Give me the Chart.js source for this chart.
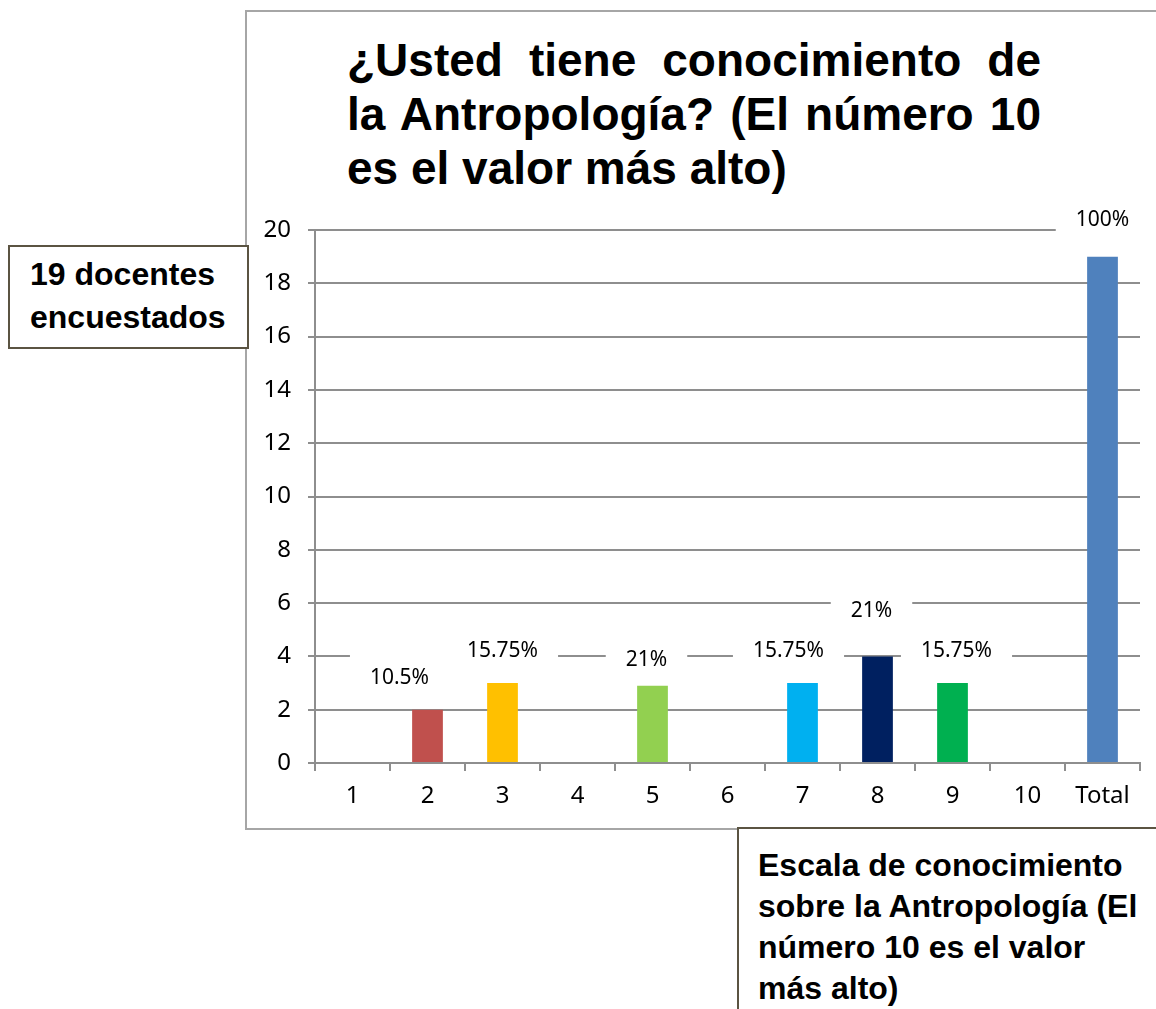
<!DOCTYPE html>
<html>
<head>
<meta charset="utf-8">
<script src="https://cdn.jsdelivr.net/npm/chart.js@4.4.1/dist/chart.umd.min.js"></script>
<style>
  body { margin: 0; background: #fff; }
  #page { position: relative; width: 1156px; height: 1009px; overflow: hidden; background: #fff; }
  #frame { position: absolute; left: 245px; top: 10px; width: 1000px; height: 816px; border: 2px solid #a6a6a6; }
  #myChart { position: absolute; left: 0; top: 0; }
  #title { position: absolute; left: 347px; top: 33px; width: 694px; font: bold 46px "Liberation Sans", Arial, sans-serif; line-height: 54px; text-align: justify; color: #000; }
  .note { position: absolute; background: #fff; font: bold 32px "Liberation Sans", Arial, sans-serif; color: #000; box-sizing: border-box; }
  #note1 { left: 8px; top: 245px; width: 241px; height: 104px; border: 2px solid #5b5442; padding: 6px 0 0 20px; line-height: 43px; }
  #note2 { left: 737px; top: 827px; width: 460px; height: 220px; border-top: 2px solid #5b5442; border-left: 2px solid #5b5442; padding: 16px 0 0 19px; line-height: 41px; }
</style>
</head>
<body>
<div id="page">
  <div id="frame"></div>
  <div id="title">¿Usted tiene conocimiento de la Antropología? (El número 10 es el valor más alto)</div>
  <canvas id="myChart" width="1156" height="1009"></canvas>
  <div class="note" id="note1">19 docentes<br>encuestados</div>
  <div class="note" id="note2">Escala de conocimiento<br>sobre la Antropología (El<br>número 10 es el valor<br>más alto)</div>
</div>
<script>
const labels = ['1', '2', '3', '4', '5', '6', '7', '8', '9', '10', 'Total']
const docentes = [null, 2, 3, null, 2.9, null, 3, 4, 3, null, 19]
const porcentajes = [null, '10.5%', '15.75%', null, '21%', null, '15.75%', '21%', '15.75%', null, '100%']
const yTicks = [0, 2, 4, 6, 8, 10, 12, 14, 16, 18, 20]

const barColors = ['#4F81BD', '#C0504D', '#FFC000', '#4F81BD', '#92D050', '#4F81BD',
  '#00B0F0', '#002060', '#00B050', '#4F81BD', '#4F81BD']
const gridColor = '#8e8e8e'

// etiquetas con fondo blanco, movidas a mano como en el original
const etiquetas = {
  id: 'etiquetas',
  afterDatasetsDraw(chart, args, opts) {
    const ctx = chart.ctx
    const meta = chart.getDatasetMeta(0)
    const items = []
    ctx.save()
    ctx.font = '21px "Noto Sans"'
    meta.data.forEach((bar, i) => {
      const txt = porcentajes[i]
      if (txt == null || docentes[i] == null) return
      const n = opts.nudge[i] || [0, 0]
      const x = bar.x + n[0]
      const y = bar.y - opts.offset + n[1]
      const w = ctx.measureText(txt).width
      items.push({ txt, x, y, w })
    })
    ctx.fillStyle = '#fff'
    items.forEach(it => {
      ctx.fillRect(it.x - it.w / 2 - opts.padX, it.y - opts.padY, it.w + opts.padX * 2, opts.padY * 2)
    })
    ctx.fillStyle = '#000'
    ctx.textAlign = 'center'
    ctx.textBaseline = 'middle'
    items.forEach(it => ctx.fillText(it.txt, it.x, it.y))
    ctx.restore()
  }
}

const ctx = document.getElementById('myChart')

const data = {
  labels,
  datasets: [{
    data: docentes,
    backgroundColor: barColors,
    barPercentage: 0.41,
    categoryPercentage: 1
  }]
}

const config = {
  type: 'bar',
  data: data,
  plugins: [etiquetas],
  options: {
    responsive: false,
    animation: false,
    layout: { padding: { left: 245, top: 230, right: 16, bottom: 181 } },
    plugins: {
      legend: { display: false },
      tooltip: { enabled: false },
      etiquetas: {
        offset: 32,
        padX: 20,
        padY: 24,
        nudge: { 1: [-28, 0], 4: [-6, 6], 6: [-14, 0], 7: [-6, -13], 8: [4, 0], 10: [0, -5] }
      }
    },
    scales: {
      x: {
        grid: { drawOnChartArea: false, drawTicks: true, tickLength: 8, color: gridColor, lineWidth: 2, offset: true },
        border: { color: gridColor, width: 2 },
        ticks: { color: '#000', font: { family: 'Noto Sans', size: 24 }, padding: 11 },
        afterFit: s => { s.height = 65 }
      },
      y: {
        min: 0,
        max: 20,
        afterBuildTicks: s => { s.ticks = yTicks.map(v => ({ value: v })) },
        grid: { color: gridColor, lineWidth: 2, tickLength: 7 },
        border: { color: gridColor, width: 2 },
        ticks: { color: '#000', font: { family: 'Noto Sans', size: 24 }, padding: 17 },
        afterFit: s => { s.width = 70 }
      }
    }
  }
}

const myChart = new Chart(ctx, config)
</script>
</body>
</html>
